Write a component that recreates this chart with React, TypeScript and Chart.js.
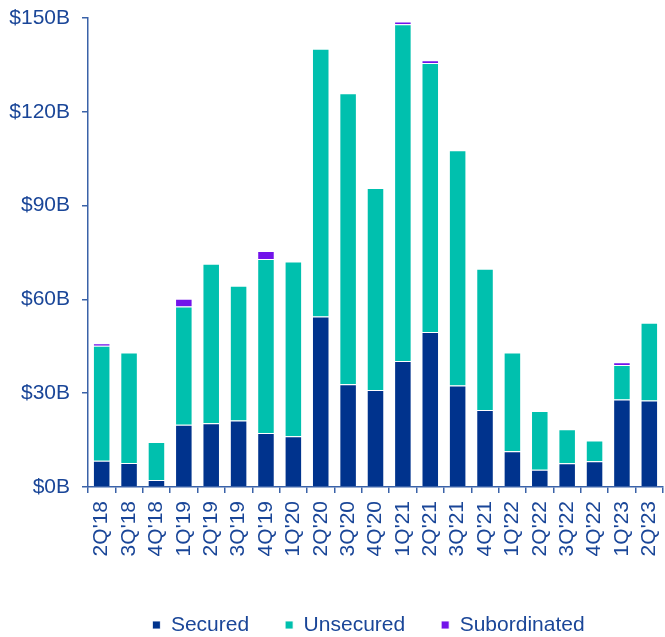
import React, { useEffect, useRef } from "react";
import { Chart, registerables } from "chart.js";

Chart.register(...registerables);

const quarters = [
  "2Q'18", "3Q'18", "4Q'18", "1Q'19", "2Q'19", "3Q'19", "4Q'19", "1Q'20",
  "2Q'20", "3Q'20", "4Q'20", "1Q'21", "2Q'21", "3Q'21", "4Q'21", "1Q'22",
  "2Q'22", "3Q'22", "4Q'22", "1Q'23", "2Q'23",
];

const secured = [8.4, 7.7, 2.2, 19.9, 20.4, 21.3, 17.3, 16.2, 54.5, 32.9, 31.0, 40.3, 49.6, 32.5, 24.6, 11.4, 5.5, 7.6, 8.2, 28.0, 27.7];
const unsecured = [36.8, 35.3, 12.2, 37.8, 51.0, 43.1, 55.6, 55.9, 85.7, 93.0, 64.6, 107.7, 86.0, 75.2, 45.2, 31.6, 18.8, 10.9, 6.7, 11.0, 24.8];
const subordinated = [0.8, null, null, 2.5, null, null, 2.6, null, null, null, null, 0.9, 0.9, null, null, null, null, null, null, 0.9, null];

const yTicks = [0, 30, 60, 90, 120, 150];

const TEXT = "#1A4698";
const AXIS = "#3A62A8";
const FONT = "'Liberation Sans', Arial, sans-serif";

const legendShift = {
  id: "legendShift",
  afterLayout(chart: any) {
    const lg = chart.legend;
    if (lg) {
      lg.left -= 7;
      lg.right -= 7;
    }
  },
};

export default function App() {
  const ref = useRef<HTMLCanvasElement>(null);

  useEffect(() => {
    if (!ref.current) return;
    const chart = new Chart(ref.current, {
      type: "bar",
      plugins: [legendShift],
      data: {
        labels: quarters,
        datasets: [
          { label: "Secured", data: secured, backgroundColor: "#00338D" },
          { label: "Unsecured", data: unsecured, backgroundColor: "#00C0AE" },
          { label: "Subordinated", data: subordinated as any, backgroundColor: "#7213EA" },
        ].map((d) => ({
          ...d,
          borderColor: "rgba(255,255,255,0.85)",
          borderWidth: 1,
          categoryPercentage: 1,
          barPercentage: 0.64,
        })),
      },
      options: {
        animation: false,
        responsive: false,
        maintainAspectRatio: false,
        layout: { padding: { top: 18, right: 2, left: 0, bottom: -8.5 } },
        plugins: {
          tooltip: { enabled: false },
          legend: {
            position: "bottom",
            fullSize: false,
            labels: {
              boxWidth: 8,
              boxHeight: 8,
              padding: 36,
              color: TEXT,
              font: { family: FONT, size: 21 },
            },
          },
        },
        scales: {
          x: {
            stacked: true,
            afterFit: (s: any) => {
              s.height = 91.5;
              s.paddingLeft = 0;
              s.paddingRight = 0;
            },
            grid: {
              display: true,
              drawOnChartArea: false,
              drawTicks: true,
              tickLength: 6,
              color: AXIS,
              lineWidth: 1.5,
              offset: true,
            },
            border: { display: true, color: AXIS, width: 1.5 },
            ticks: {
              minRotation: 90,
              maxRotation: 90,
              autoSkip: false,
              padding: 8,
              color: TEXT,
              font: { family: FONT, size: 21 },
            },
          },
          y: {
            stacked: true,
            min: 0,
            max: 150,
            afterFit: (s: any) => {
              s.width = 88;
              s.paddingTop = 0;
              s.paddingBottom = 0;
            },
            afterBuildTicks: (s: any) => {
              s.ticks = yTicks.map((v) => ({ value: v }));
            },
            grid: {
              display: true,
              drawOnChartArea: false,
              drawTicks: true,
              tickLength: 6,
              color: AXIS,
              lineWidth: 1.5,
            },
            border: { display: true, color: AXIS, width: 1.5 },
            ticks: {
              padding: 12,
              color: TEXT,
              font: { family: FONT, size: 21 },
              callback: (v: any) => "$" + v + "B",
            },
          },
        },
      },
    });
    return () => chart.destroy();
  }, []);

  return (
    <div style={{ position: "fixed", left: 0, top: 0, width: 665, height: 637, background: "#fff" }}>
      <canvas ref={ref} width={665} height={637} style={{ width: 665, height: 637, display: "block" }} />
    </div>
  );
}
